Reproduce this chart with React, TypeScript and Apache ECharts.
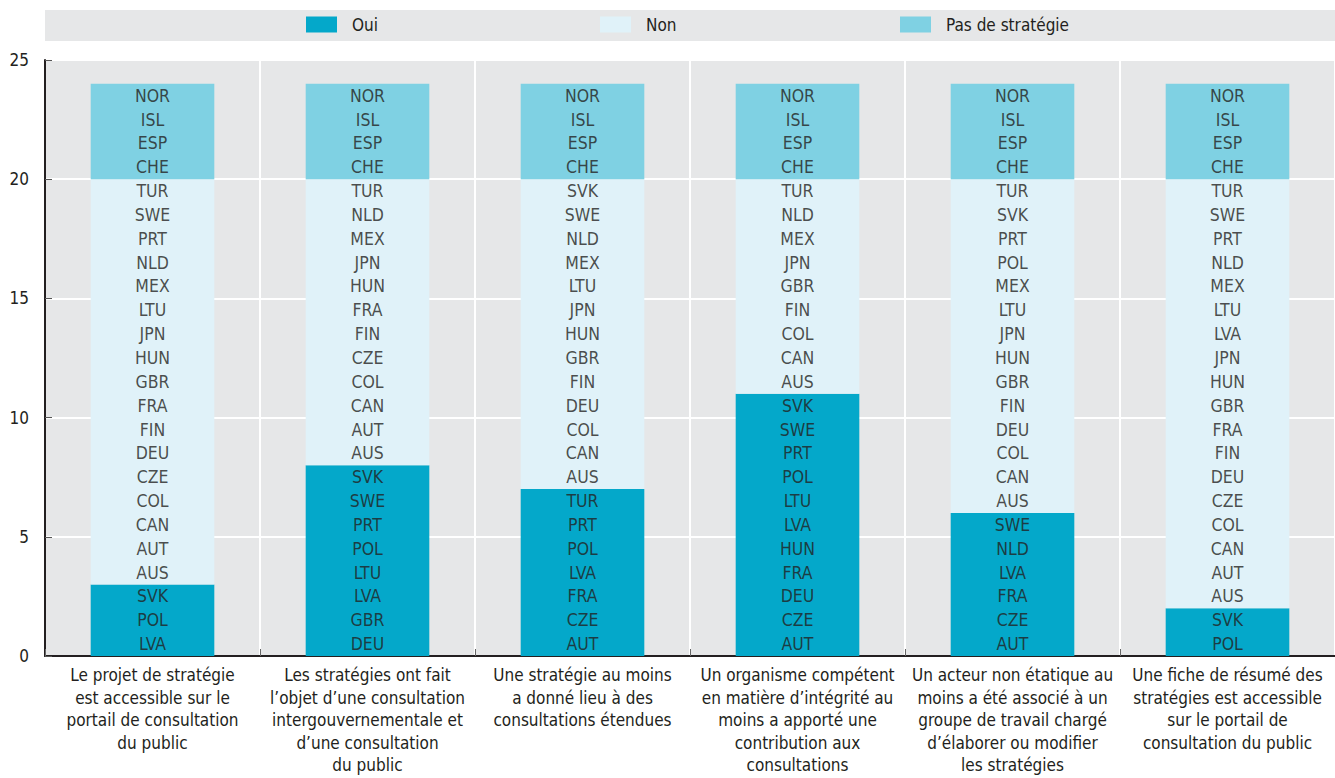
import React, { useEffect, useRef } from "react";
import * as echarts from "echarts";

const categories = [
  "Le projet de stratégie\nest accessible sur le\nportail de consultation\ndu public",
  "Les stratégies ont fait\nl’objet d’une consultation\nintergouvernementale et\nd’une consultation\ndu public",
  "Une stratégie au moins\na donné lieu à des\nconsultations étendues",
  "Un organisme compétent\nen matière d’intégrité au\nmoins a apporté une\ncontribution aux\nconsultations",
  "Un acteur non étatique au\nmoins a été associé à un\ngroupe de travail chargé\nd’élaborer ou modifier\nles stratégies",
  "Une fiche de résumé des\nstratégies est accessible\nsur le portail de\nconsultation du public",
];

// Countries listed bottom to top within each segment
const ouiCountries = [
  ["LVA", "POL", "SVK"],
  ["DEU", "GBR", "LVA", "LTU", "POL", "PRT", "SWE", "SVK"],
  ["AUT", "CZE", "FRA", "LVA", "POL", "PRT", "TUR"],
  ["AUT", "CZE", "DEU", "FRA", "HUN", "LVA", "LTU", "POL", "PRT", "SWE", "SVK"],
  ["AUT", "CZE", "FRA", "LVA", "NLD", "SWE"],
  ["POL", "SVK"],
];
const nonCountries = [
  ["AUS", "AUT", "CAN", "COL", "CZE", "DEU", "FIN", "FRA", "GBR", "HUN", "JPN", "LTU", "MEX", "NLD", "PRT", "SWE", "TUR"],
  ["AUS", "AUT", "CAN", "COL", "CZE", "FIN", "FRA", "HUN", "JPN", "MEX", "NLD", "TUR"],
  ["AUS", "CAN", "COL", "DEU", "FIN", "GBR", "HUN", "JPN", "LTU", "MEX", "NLD", "SWE", "SVK"],
  ["AUS", "CAN", "COL", "FIN", "GBR", "JPN", "MEX", "NLD", "TUR"],
  ["AUS", "CAN", "COL", "DEU", "FIN", "GBR", "HUN", "JPN", "LTU", "MEX", "POL", "PRT", "SVK", "TUR"],
  ["AUS", "AUT", "CAN", "COL", "CZE", "DEU", "FIN", "FRA", "GBR", "HUN", "JPN", "LVA", "LTU", "MEX", "NLD", "PRT", "SWE", "TUR"],
];
const pasCountries = [
  ["CHE", "ESP", "ISL", "NOR"],
  ["CHE", "ESP", "ISL", "NOR"],
  ["CHE", "ESP", "ISL", "NOR"],
  ["CHE", "ESP", "ISL", "NOR"],
  ["CHE", "ESP", "ISL", "NOR"],
  ["CHE", "ESP", "ISL", "NOR"],
];

const ouiValues = ouiCountries.map((l) => l.length);
const nonValues = nonCountries.map((l) => l.length);
const pasValues = pasCountries.map((l) => l.length);

const yTicks = { min: 0, max: 25, interval: 5 };

const FONT = "'Liberation Sans Narrow', 'DejaVu Sans Condensed', 'Roboto Condensed', sans-serif";
const TEXT = "#231f20";
const C_OUI = "#04a8ca";
const C_NON = "#e0f2f9";
const C_PAS = "#7fd1e3";
const BG = "#e6e7e8";

export default function App() {
  const ref = useRef<HTMLDivElement>(null);
  useEffect(() => {
    if (!ref.current) return;
    const chart = echarts.init(ref.current, null, { renderer: "svg" });

    const labelPoints: any[] = [];
    categories.forEach((_, i) => {
      const all = [...ouiCountries[i], ...nonCountries[i], ...pasCountries[i]];
      all.forEach((c, k) => {
        labelPoints.push({ value: [i, k + 0.5], name: c });
      });
    });

    const legendBase = {
      top: 16,
      itemWidth: 31,
      itemHeight: 16,
      icon: "rect",
      textStyle: { fontFamily: FONT, fontSize: 17, color: TEXT, padding: [0, 0, 0, 10] },
      padding: 0,
      selectedMode: false,
    };

    chart.setOption({
      animation: false,
      graphic: [
        {
          type: "rect",
          shape: { x: 45, y: 10, width: 1290, height: 31 },
          style: { fill: BG },
          z: -10,
        },
      ],
      legend: [
        { ...legendBase, left: 306, data: ["Oui"] },
        { ...legendBase, left: 600, data: ["Non"] },
        { ...legendBase, left: 900, data: ["Pas de stratégie"] },
      ],
      grid: {
        left: 45,
        right: 0,
        top: 60,
        bottom: 122,
        show: true,
        backgroundColor: BG,
        borderWidth: 0,
        containLabel: false,
        outerBoundsMode: "none",
      },
      xAxis: {
        type: "category",
        data: categories,
        boundaryGap: true,
        axisLine: { show: true, lineStyle: { color: "#231f20", width: 2 } },
        axisTick: { show: true, inside: true, length: 7, lineStyle: { color: "#666" } },
        splitLine: { show: true, lineStyle: { color: "#ffffff", width: 2 } },
        axisLabel: {
          interval: 0,
          fontFamily: FONT,
          fontSize: 17,
          lineHeight: 22.5,
          color: TEXT,
          margin: 8,
          align: "center",
          verticalAlign: "top",
        },
      },
      yAxis: {
        type: "value",
        min: yTicks.min,
        max: yTicks.max,
        interval: yTicks.interval,
        axisLine: { show: true, lineStyle: { color: "#231f20", width: 2 } },
        axisTick: { show: true, inside: true, length: 7, lineStyle: { color: "#555" } },
        splitLine: { show: true, lineStyle: { color: "#ffffff", width: 2 } },
        axisLabel: { fontFamily: FONT, fontSize: 17, color: TEXT, margin: 16 },
      },
      series: [
        {
          name: "Oui",
          type: "bar",
          stack: "s",
          data: ouiValues,
          barWidth: "57.5%",
          itemStyle: { color: C_OUI },
        },
        {
          name: "Non",
          type: "bar",
          stack: "s",
          data: nonValues,
          barWidth: "57.5%",
          itemStyle: { color: C_NON },
        },
        {
          name: "Pas de stratégie",
          type: "bar",
          stack: "s",
          data: pasValues,
          barWidth: "57.5%",
          itemStyle: { color: C_PAS },
        },
        {
          name: "labels",
          type: "scatter",
          data: labelPoints,
          symbolSize: 0,
          silent: true,
          z: 10,
          label: {
            show: true,
            position: "inside",
            formatter: (p: any) => p.name,
            fontFamily: FONT,
            fontSize: 17.5,
            color: TEXT,
          },
        },
      ],
    });
    return () => chart.dispose();
  }, []);
  return <div ref={ref} style={{ width: 1335, height: 778, position: "absolute", left: 0, top: 0 }} />;
}
